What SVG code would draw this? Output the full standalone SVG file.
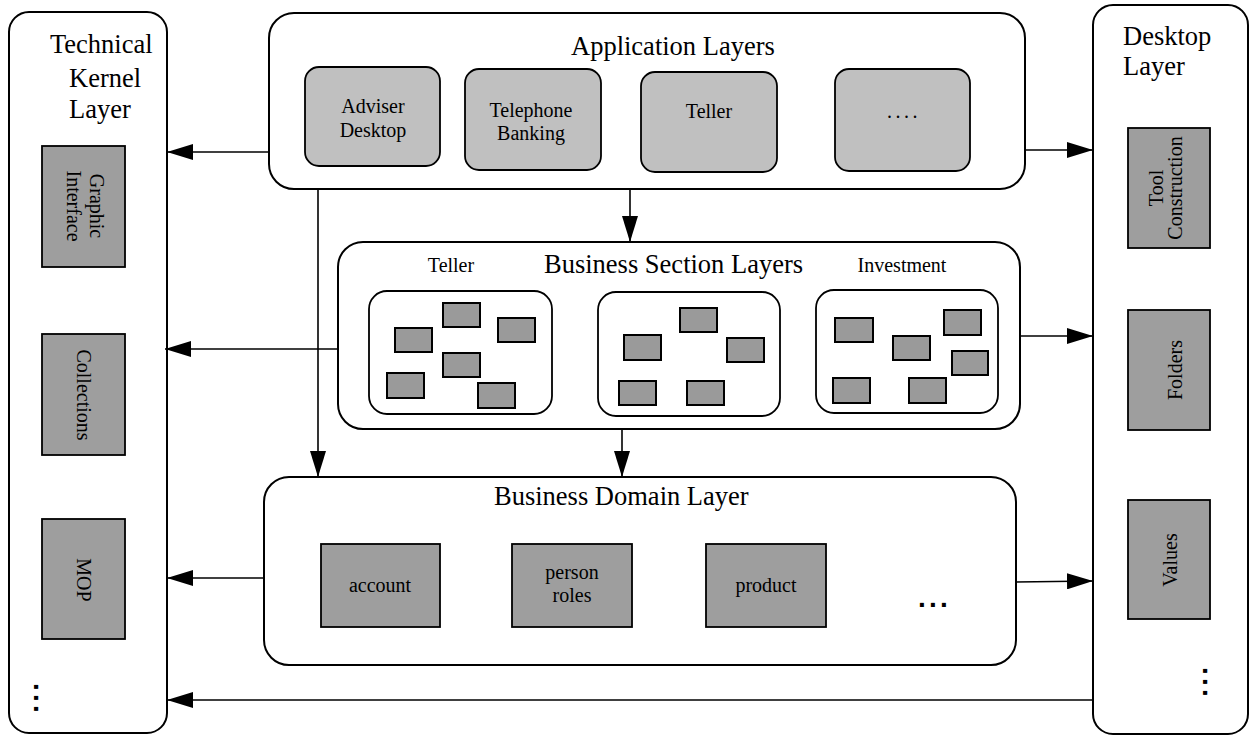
<svg xmlns="http://www.w3.org/2000/svg" width="1249" height="735" viewBox="0 0 1249 735">
<style>
text{font-family:"Liberation Serif","Times New Roman",serif;fill:#000}
.panel{fill:#fff;stroke:#000;stroke-width:2}
.light{fill:#c0c0c0;stroke:#000;stroke-width:1.8}
.dark{fill:#9e9e9e;stroke:#000;stroke-width:1.8}
.sub{fill:#fff;stroke:#000;stroke-width:1.8}
.sq{fill:#9a9a9a;stroke:#000;stroke-width:2}
.t26{font-size:26.5px}
.t20{font-size:20px}
.mid{text-anchor:middle}
.dots{font-family:"Liberation Sans",Arial,sans-serif;font-weight:bold;font-size:28px;letter-spacing:3.2px}
.conn line{stroke:#000;stroke-width:1.6;marker-end:url(#ah)}
</style>
<defs>
<marker id="ah" markerUnits="userSpaceOnUse" markerWidth="26" markerHeight="16" refX="26" refY="8" orient="auto">
<path d="M0,0 L26,8 L0,16 z" fill="#000"/>
</marker>
</defs>
<rect width="1249" height="735" fill="#fff"/>

<g id="technical-kernel-layer">
<rect class="panel" x="9" y="12" width="158" height="721" rx="20"/>
<text class="t26" x="50" y="53">Technical</text>
<text class="t26" x="69" y="87">Kernel</text>
<text class="t26" x="69" y="118">Layer</text>
</g>
<g id="graphic-interface">
<rect class="dark" x="42" y="146" width="83" height="121"/>
<text class="t20 mid" transform="translate(90,206) rotate(90)">Graphic</text>
<text class="t20 mid" transform="translate(67,206) rotate(90)">Interface</text>
</g>
<g id="collections">
<rect class="dark" x="42" y="334" width="83" height="121"/>
<text class="t20 mid" transform="translate(77,395) rotate(90)">Collections</text>
</g>
<g id="mop">
<rect class="dark" x="42" y="519" width="83" height="120"/>
<text class="t20 mid" transform="translate(77,580) rotate(90)">MOP</text>
</g>
<g id="tk-more">
<text class="dots" transform="translate(34,683) rotate(90)">...</text>
</g>

<g id="desktop-layer">
<rect class="panel" x="1093" y="5" width="155" height="729" rx="20"/>
<text class="t26" x="1123" y="45">Desktop</text>
<text class="t26" x="1123" y="75">Layer</text>
</g>
<g id="tool-construction">
<rect class="dark" x="1128" y="128" width="82" height="120"/>
<text class="t20 mid" transform="translate(1163,188) rotate(-90)">Tool</text>
<text class="t20 mid" transform="translate(1182,188) rotate(-90)">Construction</text>
</g>
<g id="folders">
<rect class="dark" x="1128" y="310" width="82" height="120"/>
<text class="t20 mid" transform="translate(1182,370) rotate(-90)">Folders</text>
</g>
<g id="values">
<rect class="dark" x="1128" y="500" width="82" height="119"/>
<text class="t20 mid" transform="translate(1177,560) rotate(-90)">Values</text>
</g>
<g id="desk-more">
<text class="dots" transform="translate(1203,667) rotate(90)">...</text>
</g>

<g id="application-layers">
<rect class="panel" x="269" y="13" width="756" height="176" rx="25"/>
<text class="t26" x="571" y="55">Application Layers</text>
</g>
<g id="adviser-desktop">
<rect class="light" x="305" y="67" width="135" height="99" rx="14"/>
<text class="t20 mid" x="373" y="113">Adviser</text>
<text class="t20 mid" x="373" y="137">Desktop</text>
</g>
<g id="telephone-banking">
<rect class="light" x="465" y="69" width="136" height="101" rx="14"/>
<text class="t20 mid" x="531" y="117">Telephone</text>
<text class="t20 mid" x="531" y="140">Banking</text>
</g>
<g id="teller-app">
<rect class="light" x="641" y="72" width="136" height="100" rx="14"/>
<text class="t20 mid" x="709" y="118">Teller</text>
</g>
<g id="more-app">
<rect class="light" x="835" y="69" width="135" height="102" rx="14"/>
<text class="t20 mid" x="904" y="118" style="letter-spacing:3.5px">....</text>
</g>

<g id="business-section-layers">
<rect class="panel" x="338" y="242" width="682" height="187" rx="25"/>
<text x="544" y="273" style="font-size:26.5px">Business Section Layers</text>
<text class="t20 mid" x="451" y="272">Teller</text>
<text class="t20 mid" x="902" y="272">Investment</text>
</g>
<g id="section-teller">
<rect class="sub" x="369" y="291" width="183" height="123" rx="18"/>
<rect class="sq" x="443" y="303" width="37" height="24"/>
<rect class="sq" x="498" y="318" width="37" height="24"/>
<rect class="sq" x="395" y="328" width="37" height="24"/>
<rect class="sq" x="443" y="353" width="37" height="24"/>
<rect class="sq" x="387" y="373" width="37" height="25"/>
<rect class="sq" x="478" y="383" width="37" height="25"/>
</g>
<g id="section-middle">
<rect class="sub" x="598" y="292" width="182" height="124" rx="18"/>
<rect class="sq" x="680" y="308" width="37" height="24"/>
<rect class="sq" x="624" y="335" width="37" height="25"/>
<rect class="sq" x="727" y="338" width="37" height="24"/>
<rect class="sq" x="619" y="381" width="37" height="24"/>
<rect class="sq" x="687" y="381" width="37" height="24"/>
</g>
<g id="section-investment">
<rect class="sub" x="816" y="290" width="182" height="123" rx="18"/>
<rect class="sq" x="835" y="318" width="38" height="24"/>
<rect class="sq" x="944" y="310" width="37" height="25"/>
<rect class="sq" x="893" y="336" width="37" height="24"/>
<rect class="sq" x="952" y="351" width="36" height="24"/>
<rect class="sq" x="833" y="378" width="37" height="25"/>
<rect class="sq" x="909" y="378" width="37" height="25"/>
</g>

<g id="business-domain-layer">
<rect class="panel" x="264" y="477" width="752" height="188" rx="25"/>
<text x="494" y="505" style="font-size:26.5px">Business Domain Layer</text>
<text class="dots" x="918" y="607">...</text>
</g>
<g id="account">
<rect class="dark" x="321" y="544" width="119" height="83"/>
<text class="t20 mid" x="380" y="592">account</text>
</g>
<g id="person-roles">
<rect class="dark" x="512" y="544" width="120" height="83"/>
<text class="t20 mid" x="572" y="579">person</text>
<text class="t20 mid" x="572" y="602">roles</text>
</g>
<g id="product">
<rect class="dark" x="706" y="544" width="120" height="83"/>
<text class="t20 mid" x="766" y="592">product</text>
</g>

<g id="connectors" class="conn">
<line x1="269" y1="152" x2="167" y2="152"/>
<line x1="1025" y1="150" x2="1093" y2="150"/>
<line x1="630" y1="189" x2="630" y2="242"/>
<line x1="318" y1="189" x2="318" y2="477"/>
<line x1="338" y1="349" x2="165" y2="349"/>
<line x1="1020" y1="336" x2="1093" y2="336"/>
<line x1="622" y1="429" x2="622" y2="477"/>
<line x1="264" y1="578" x2="167" y2="578"/>
<line x1="1016" y1="582" x2="1093" y2="581"/>
<line x1="1093" y1="700" x2="167" y2="700"/>
</g>
</svg>
